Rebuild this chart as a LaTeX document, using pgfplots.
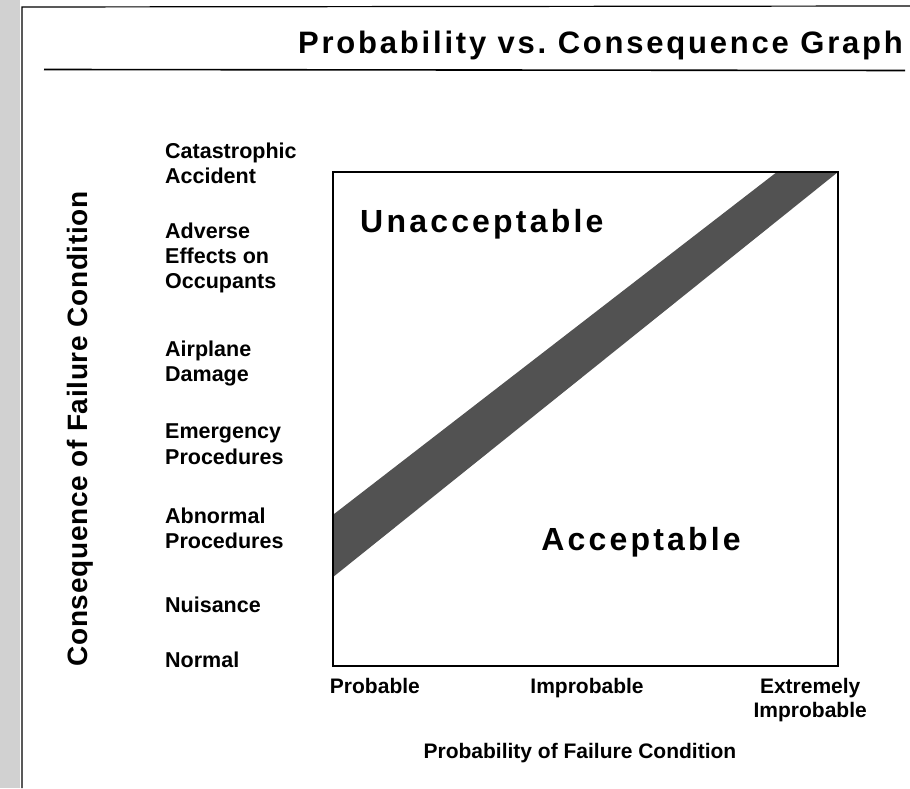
\documentclass[border=0pt]{standalone}
\usepackage{pgfplots}
\pgfplotsset{compat=1.18}
\usepackage{fontspec}
\setmainfont{Liberation Sans}
\newfontfamily\spaced[LetterSpace=10]{Liberation Sans}
\newfontfamily\titlefont[LetterSpace=9]{Liberation Sans}
\newfontfamily\labelfont[LetterSpace=2.5]{Liberation Sans}
\frenchspacing
\begin{document}
\begin{tikzpicture}
\useasboundingbox (0pt,0pt) rectangle (910pt,788pt);
% page edge and scan frame
\fill[black!18] (0pt,0pt) rectangle (20pt,788pt);
\draw[line width=1.2pt] (22pt,0pt) -- (22pt,781pt) -- (910pt,782pt);
% title and rule
\node[anchor=base east, font=\titlefont\bfseries\fontsize{31}{36}\selectfont, inner sep=0pt] at (903pt,734pt) {Probability vs. Consequence Graph};
\draw[line width=1.6pt] (44pt,718.5pt) -- (905pt,717.5pt);
\begin{axis}[
  at={(333pt,122pt)}, anchor=south west,
  scale only axis, width=505pt, height=494pt,
  xmin=0, xmax=1, ymin=0, ymax=1,
  axis on top,
  axis line style={line width=1.6pt},
  clip=false,
  major tick length=0pt,
  xtick={0.083,0.503,0.945},
  xticklabels={Probable,Improbable,{Extremely\\Improbable}},
  xticklabel style={font=\bfseries\fontsize{21}{24.5}\selectfont, align=center, anchor=north, inner sep=0pt, yshift=-12pt},
  ytick={0.012,0.123,0.279,0.449,0.613,0.826,1.0},
  yticklabels={Normal,Nuisance,{Abnormal\\Procedures},{Emergency\\Procedures},{Airplane\\Damage},{Adverse\\Effects on\\Occupants},{Catastrophic\\Accident\rule[-18pt]{0pt}{18pt}}},
  yticklabel style={font=\bfseries\fontsize{21.5}{25.3}\selectfont, align=left, anchor=west, inner sep=0pt, xshift=-168pt},
  xlabel={Probability of Failure Condition},
  xlabel style={font=\bfseries\fontsize{21}{24}\selectfont, at={(axis description cs:0.489,-0.176)}, anchor=center},
  ylabel={Consequence of Failure Condition},
  ylabel style={font=\labelfont\bfseries\fontsize{28}{32}\selectfont, at={(axis description cs:-0.501,0.48)}, anchor=center},
]
\addplot[fill=black!68, draw=none] coordinates {(0,0.18) (0,0.306) (0.879,1) (1,1)} -- cycle;
\node[font=\spaced\bfseries\fontsize{32}{36}\selectfont, anchor=base west, inner sep=0pt] at (axis cs:0.0535,0.8785) {Unacceptable};
\node[font=\spaced\bfseries\fontsize{32}{36}\selectfont, anchor=base west, inner sep=0pt] at (axis cs:0.412,0.2348) {Acceptable};
\end{axis}
\end{tikzpicture}
\end{document}
